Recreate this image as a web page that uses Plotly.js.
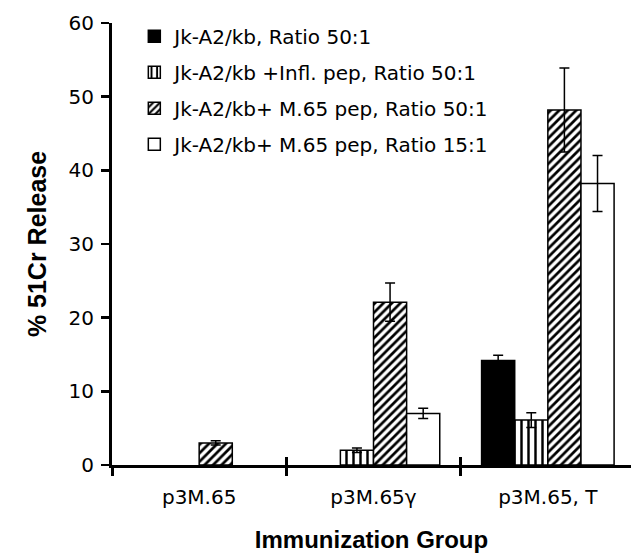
<!DOCTYPE html>
<html>
<head>
<meta charset="utf-8">
<script src="https://cdn.plot.ly/plotly-3.0.1.min.js"></script>
<style>html,body{margin:0;padding:0;background:#fff;}#chart{width:631px;height:553px;}</style>
</head>
<body>
<div id="chart"></div>
<script>
const categories = ['p3M.65', 'p3M.65\u03B3', 'p3M.65, T'];
const seriesNames = [
  'Jk-A2/kb, Ratio 50:1',
  'Jk-A2/kb +Infl. pep, Ratio 50:1',
  'Jk-A2/kb+ M.65 pep, Ratio 50:1',
  'Jk-A2/kb+ M.65 pep, Ratio 15:1'
];
const jkRatio50 = [null, null, 14.2];
const jkRatio50Err = [null, null, 0.7];
const inflPep50 = [null, 2.0, 6.1];
const inflPep50Err = [null, 0.3, 1.0];
const m65Pep50 = [3.0, 22.1, 48.2];
const m65Pep50Err = [0.3, 2.6, 5.7];
const m65Pep15 = [null, 7.0, 38.2];
const m65Pep15Err = [null, 0.7, 3.8];
const yTicks = [0, 10, 20, 30, 40, 50, 60];

const FONT = 'DejaVu Sans, Liberation Sans, Arial, sans-serif';
const BOLD = 'Liberation Sans, Arial, sans-serif';
const line = {color: '#000', width: 1.5};
function errBar(arr) {
  return {type: 'data', array: arr, visible: true, color: '#000', thickness: 1.5, width: 5};
}
const traces = [
  {type: 'bar', name: seriesNames[0], x: categories, y: jkRatio50, error_y: errBar(jkRatio50Err),
   marker: {color: '#000', line: line}, legendgroup: 'a'},
  {type: 'bar', name: seriesNames[1], x: categories, y: inflPep50, error_y: errBar(inflPep50Err),
   marker: {color: '#fff', line: line, pattern: {shape: '|', fgcolor: '#000', bgcolor: '#fff', size: 7, solidity: 0.35}}, legendgroup: 'b'},
  {type: 'bar', name: seriesNames[2], x: categories, y: m65Pep50, error_y: errBar(m65Pep50Err),
   marker: {color: '#fff', line: line, pattern: {shape: '/', fgcolor: '#000', bgcolor: '#fff', size: 6, solidity: 0.45}}, legendgroup: 'c'},
  {type: 'bar', name: seriesNames[3], x: categories, y: m65Pep15, error_y: errBar(m65Pep15Err),
   marker: {color: '#fff', line: line}, legendgroup: 'd'},
  {type: 'scatter', x: categories, y: [0, 0, 0], xaxis: 'x2', yaxis: 'y', mode: 'none', showlegend: false, hoverinfo: 'skip'}
];

const layout = {
  width: 631, height: 553,
  margin: {l: 112, r: 0, t: 23, b: 88},
  paper_bgcolor: '#fff', plot_bgcolor: '#fff',
  font: {family: FONT, color: '#000', size: 20},
  barmode: 'group', bargap: 0.24, bargroupgap: 0,
  showlegend: true,
  legend: {x: 0.043, xanchor: 'left', y: 1.014, yanchor: 'top', traceorder: 'grouped', tracegroupgap: 7,
           font: {family: FONT, size: 20, color: '#000'}, bgcolor: 'rgba(0,0,0,0)', itemclick: false},
  xaxis: {type: 'category', range: [-0.5, 2.477], showline: true, linecolor: '#000', linewidth: 3,
          ticks: 'outside', tickson: 'boundaries', ticklen: 8, tickwidth: 3, tickcolor: '#000',
          ticklabelstandoff: 12,
          tickfont: {family: FONT, size: 20}, showgrid: false, zeroline: false,
          title: {text: 'Immunization Group', font: {family: BOLD, size: 24, weight: 'bold'}, standoff: 28}},
  xaxis2: {type: 'category', overlaying: 'x', range: [-0.5, 2.477], anchor: 'y', side: 'bottom',
           ticks: 'inside', tickson: 'boundaries', ticklen: 8, tickwidth: 3, tickcolor: '#000',
           showticklabels: false, showgrid: false, showline: false, zeroline: false},
  yaxis: {range: [0, 60], tickvals: yTicks, ticktext: yTicks.map(String), showline: true, linecolor: '#000', linewidth: 3,
          ticks: 'outside', ticklen: 8, tickwidth: 2.5, tickcolor: '#000', showgrid: false, zeroline: false,
          ticklabelstandoff: 3,
          tickfont: {family: FONT, size: 20},
          title: {text: '% 51Cr Release', font: {family: BOLD, size: 25, weight: 'bold'}, standoff: 15}}
};
Plotly.newPlot('chart', traces, layout, {displayModeBar: false, staticPlot: true});
</script>
</body>
</html>
